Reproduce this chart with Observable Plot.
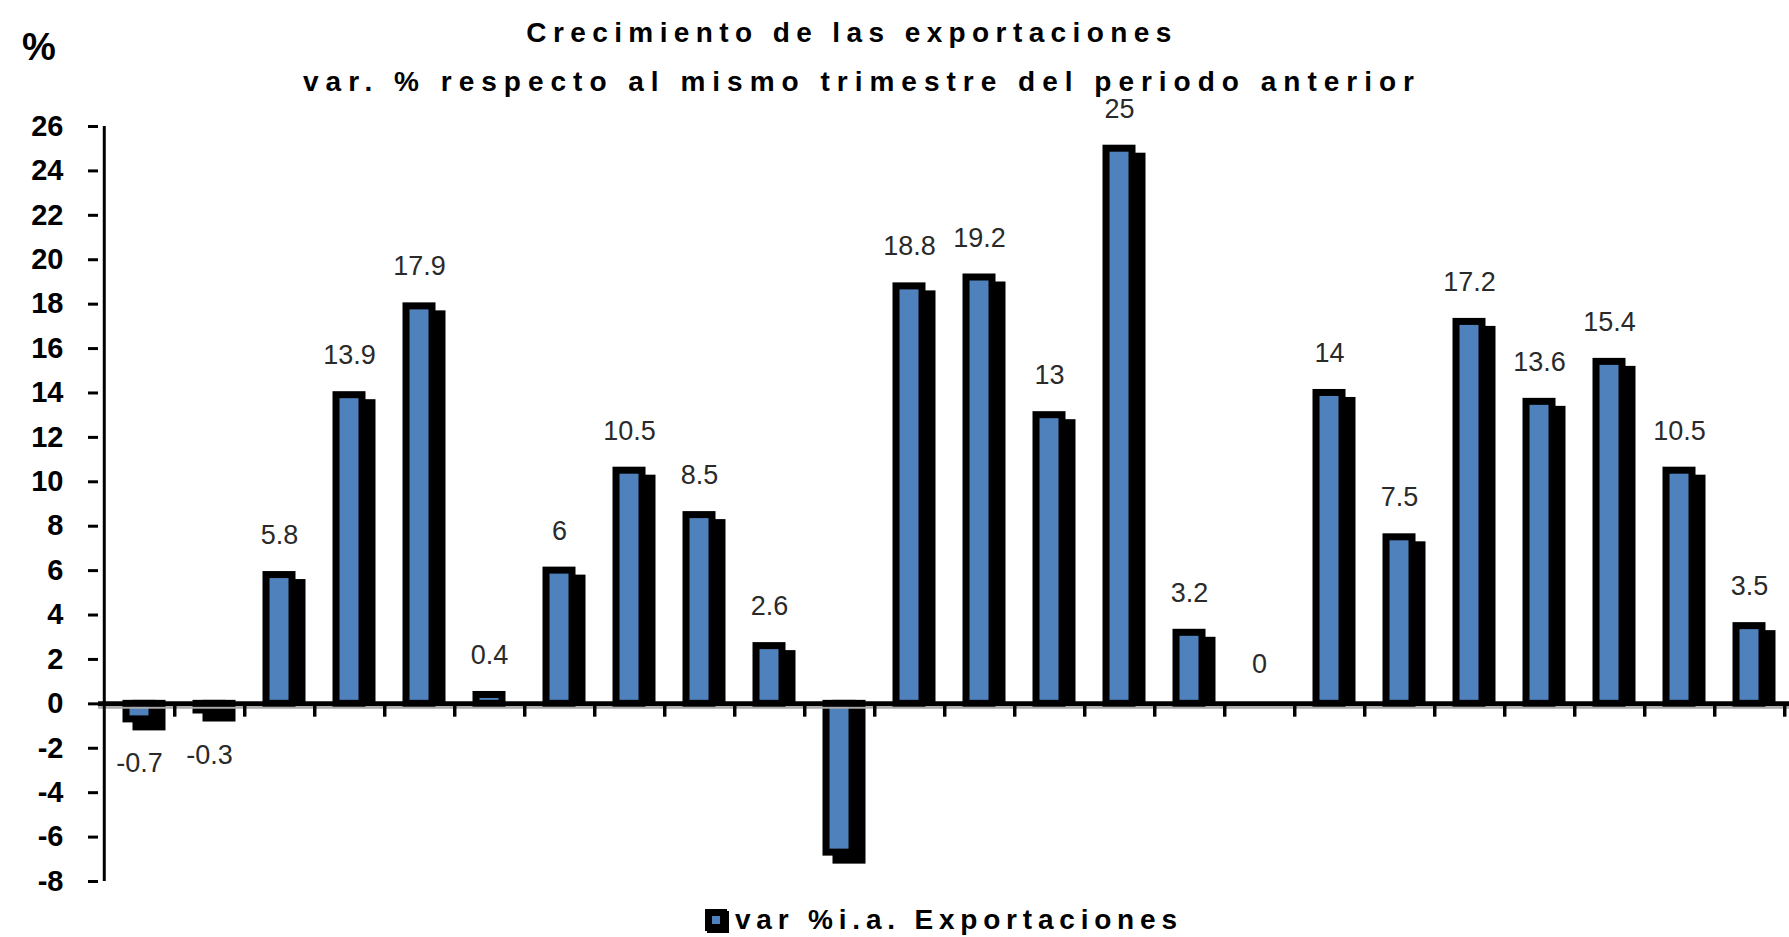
<!DOCTYPE html>
<html>
<head>
<meta charset="utf-8">
<script src="https://cdn.jsdelivr.net/npm/d3@7"></script>
<script src="https://cdn.jsdelivr.net/npm/@observablehq/plot@0.6"></script>
<style>
  body { margin: 0; background: #fff; font-family: "Liberation Sans", Arial, sans-serif; }
  #wrap { position: relative; width: 1789px; height: 937px; overflow: hidden; background: #fff; }
  #wrap svg { position: absolute; left: 0; top: 0; }
  .t { position: absolute; font-weight: bold; white-space: nowrap; color: #000; line-height: 28px; font-size: 28px; letter-spacing: 6.4px; z-index: 2; }
  #pct { left: 22px; top: 28px; font-size: 38px; line-height: 38px; letter-spacing: 0; }
  #title { left: 852px; top: 19px; transform: translateX(-50%); }
  #sub { left: 862px; top: 68px; transform: translateX(-50%); letter-spacing: 7px; }
  #legend { left: 705px; top: 906px; letter-spacing: 5.8px; }
  .sw { display: inline-block; position: relative; width: 22px; height: 22px; background: #000; vertical-align: -2px; margin-right: 8px; box-shadow: 2px 2px 0 #000; }
  .sw span { position: absolute; left: 7px; top: 7px; width: 8px; height: 8px; background: #4F81BD; }
</style>
</head>
<body>
<div id="wrap">
  <div id="pct" class="t">%</div>
  <div id="title" class="t">Crecimiento de las exportaciones</div>
  <div id="sub" class="t">var. % respecto al mismo trimestre del periodo anterior</div>
  <div id="legend" class="t"><span class="sw"><span></span></span>var %i.a. Exportaciones</div>
</div>
<script>
// Quarters (category keys; the original tick labels are illegible)
const quarters = ["Q01","Q02","Q03","Q04","Q05","Q06","Q07","Q08","Q09","Q10","Q11","Q12",
                  "Q13","Q14","Q15","Q16","Q17","Q18","Q19","Q20","Q21","Q22","Q23","Q24"];
// var % i.a. Exportaciones
const values = [-0.7, -0.3, 5.8, 13.9, 17.9, 0.4, 6, 10.5, 8.5, 2.6, -6.7, 18.8,
                19.2, 13, 25, 3.2, 0, 14, 7.5, 17.2, 13.6, 15.4, 10.5, 3.5];
// Data labels as printed (the 11th bar shows none)
const labels = ["-0.7","-0.3","5.8","13.9","17.9","0.4","6","10.5","8.5","2.6", null, "18.8",
                "19.2","13","25","3.2","0","14","7.5","17.2","13.6","15.4","10.5","3.5"];
const yTicks = [-8,-6,-4,-2,0,2,4,6,8,10,12,14,16,18,20,22,24,26];

const data = quarters.map((q, i) => ({q, v: values[i], label: labels[i]}));
const posBars = data.filter(d => d.v > 0);
const negBars = data.filter(d => d.v < 0);
const bars = data.filter(d => d.v !== 0);
const posLabels = data.filter(d => d.label !== null && d.v >= 0);
const negLabels = data.filter(d => d.label !== null && d.v < 0);

const W = 1789, H = 937, ML = 98;
const half = (W - ML) / quarters.length / 2;
const barOpts = {x: "q", y: "v", stroke: "#000", strokeWidth: 7, insetLeft: 22, insetRight: 22};

const chart = Plot.plot({
  width: W, height: H,
  marginLeft: ML, marginRight: 0, marginTop: 126, marginBottom: 56,
  style: {fontFamily: "'Liberation Sans', Arial, sans-serif", background: "transparent", overflow: "visible"},
  x: {domain: quarters, padding: 0, axis: null},
  y: {domain: [-8, 26], axis: null},
  marks: [
    // shadows (offset right/down, kept from crossing below the zero line)
    Plot.barY(posBars, {...barOpts, fill: "#000", dx: 10, dy: 8, insetBottom: 11}),
    Plot.barY(negBars, {...barOpts, fill: "#000", dx: 10, dy: 8, insetTop: -8}),
    // bars
    Plot.barY(bars, {...barOpts, fill: "#4F81BD"}),
    // zero line with light shade
    Plot.ruleY([0], {stroke: "#aaa", strokeWidth: 2, dy: 4}),
    Plot.ruleY([0], {stroke: "#000", strokeWidth: 5}),
    // category boundary ticks below the zero line
    Plot.ruleX(quarters, {x: d => d, dx: half, y1: 0, y2: -0.6, stroke: "#000", strokeWidth: 3.5}),
    // y axis line
    Plot.ruleX([quarters[0]], {x: d => d, dx: -half, y1: -8, y2: 26, stroke: "#000", strokeWidth: 3}),
    Plot.axisY({ticks: yTicks, tickSize: 10, tickPadding: 25, strokeWidth: 3, label: null,
                tickFormat: d => `${d}`, fontSize: 29, fontWeight: "bold", fill: "#000"}),
    // data labels
    Plot.text(posLabels, {x: "q", y: "v", text: "label", dy: -31, lineAnchor: "bottom", fontSize: 27, fill: "#2a2a2a"}),
    Plot.text(negLabels, {x: "q", y: "v", text: "label", dy: 53, lineAnchor: "bottom", fontSize: 27, fill: "#2a2a2a"})
  ]
});
document.getElementById("wrap").appendChild(chart);
</script>
</body>
</html>
